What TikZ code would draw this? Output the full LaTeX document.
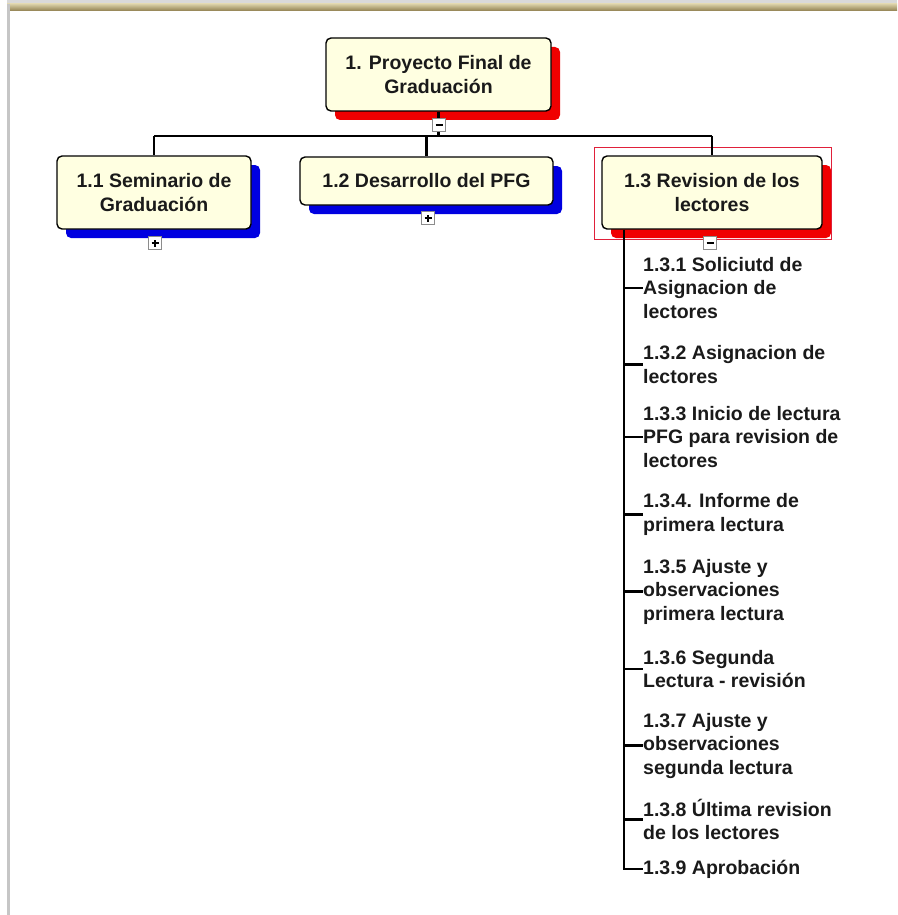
\documentclass[tikz,border=0pt]{standalone}
\usepackage{fontspec}
\setmainfont{Liberation Sans}
\usetikzlibrary{shadows}
\definecolor{boxfill}{HTML}{FFFFE1}
\definecolor{shred}{HTML}{F00000}
\definecolor{shblue}{HTML}{0000E0}
\definecolor{khakiA}{HTML}{D9CFA6}
\definecolor{khakiB}{HTML}{8F7F4F}
\definecolor{togglegray}{HTML}{8C8C8C}
\definecolor{selred}{HTML}{E0203A}
\definecolor{ink}{HTML}{1A1A1A}

\begin{document}
\begin{tikzpicture}[x=1pt,y=-1pt,
  wbs/.style={draw=black, line width=1.4pt, rounded corners=5pt, fill=boxfill,
    align=center, inner sep=2pt, text=ink,
    font=\fontsize{19.5}{23.5}\selectfont\bfseries},
  redshadow/.style={general shadow={fill=shred, shadow xshift=9pt, shadow yshift=-9pt}},
  blueshadow/.style={general shadow={fill=shblue, shadow xshift=9pt, shadow yshift=-9pt}},
  link/.style={line width=2.4pt, draw=black},
  task/.style={anchor=west, align=left, inner sep=0pt, text=ink,
    font=\fontsize{19.5}{23.5}\selectfont\bfseries},
  toggle/.style={draw=togglegray, fill=white, line width=0.9pt,
    minimum size=12.5pt, inner sep=0pt},
  sign/.style={line width=1.5pt, draw=black},
]
\useasboundingbox (0,0) rectangle (897,915);
\fill[white] (0,0) rectangle (897,915);

% window frame: top bar and left edge
\fill[gray!30] (7,0) rectangle (897,4);
\shade[top color=khakiA, bottom color=khakiB] (7,4) rectangle (897,11);
\fill[gray!45] (7,4) rectangle (10,915);

% work breakdown boxes
\node[wbs, redshadow, minimum width=225pt, minimum height=73pt] (root) at (438.5,74.5)
  {1. Proyecto Final de\\Graduación};
\node[wbs, blueshadow, minimum width=194pt, minimum height=73pt] (n11) at (154,192.5)
  {1.1 Seminario de\\Graduación};
\node[wbs, blueshadow, minimum width=253pt, minimum height=48pt] (n12) at (426.5,181)
  {1.2 Desarrollo del PFG};
\node[wbs, redshadow, minimum width=220pt, minimum height=73pt] (n13) at (712,192.5)
  {1.3 Revision de los\\lectores};

% selection frame round 1.3
\draw[selred, line width=1pt] ([shift={(-7pt,8pt)}]n13.north west) rectangle ([shift={(9pt,-10pt)}]n13.south east);

% tree connectors
\coordinate (bus) at (0,136);
\draw[link] (root.south) -- (root.south |- bus);
\draw[link] (n11.north |- bus) -- (n13.north |- bus);
\draw[link] (n11.north |- bus) -- (n11.north);
\draw[link] (n12.north |- bus) -- (n12.north);
\draw[link] (n13.north |- bus) -- (n13.north);

% sub-tasks of 1.3
\node[task] (c1) at (643,288)   {1.3.1 Soliciutd de\\Asignacion de\\lectores};
\node[task] (c2) at (643,364.5) {1.3.2 Asignacion de\\lectores};
\node[task] (c3) at (643,437)   {1.3.3 Inicio de lectura\\PFG para revision de\\lectores};
\node[task] (c4) at (643,514.5) {1.3.4. Informe de\\primera lectura};
\node[task] (c5) at (643,591.5) {1.3.5 Ajuste y\\observaciones\\primera lectura};
\node[task] (c6) at (643,669)   {1.3.6 Segunda\\Lectura - revisión};
\node[task] (c7) at (643,745.5) {1.3.7 Ajuste y\\observaciones\\segunda lectura};
\node[task] (c8) at (643,819.5) {1.3.8 Última revision\\de los lectores};
\node[task] (c9) at (643,869)   {1.3.9 Aprobación};

\coordinate (spine) at (624,0);
\draw[link] (n13.south -| spine) -- (c9.west -| spine) -- (c9.west);
\foreach \c in {c1,c2,c3,c4,c5,c6,c7,c8}
  \draw[link] (\c.west -| spine) -- (\c.west);

% expand / collapse toggles
\node[toggle] (tg0) at (439,125) {};
\draw[sign] ([xshift=-3.5pt]tg0.center) -- ([xshift=3.5pt]tg0.center);
\node[toggle] (tg1) at (155,243) {};
\draw[sign] ([xshift=-3.5pt]tg1.center) -- ([xshift=3.5pt]tg1.center);
\draw[sign] ([yshift=-3.5pt]tg1.center) -- ([yshift=3.5pt]tg1.center);
\node[toggle] (tg2) at (428,218) {};
\draw[sign] ([xshift=-3.5pt]tg2.center) -- ([xshift=3.5pt]tg2.center);
\draw[sign] ([yshift=-3.5pt]tg2.center) -- ([yshift=3.5pt]tg2.center);
\node[toggle] (tg3) at (710,243) {};
\draw[sign] ([xshift=-3.5pt]tg3.center) -- ([xshift=3.5pt]tg3.center);
\end{tikzpicture}
\end{document}
